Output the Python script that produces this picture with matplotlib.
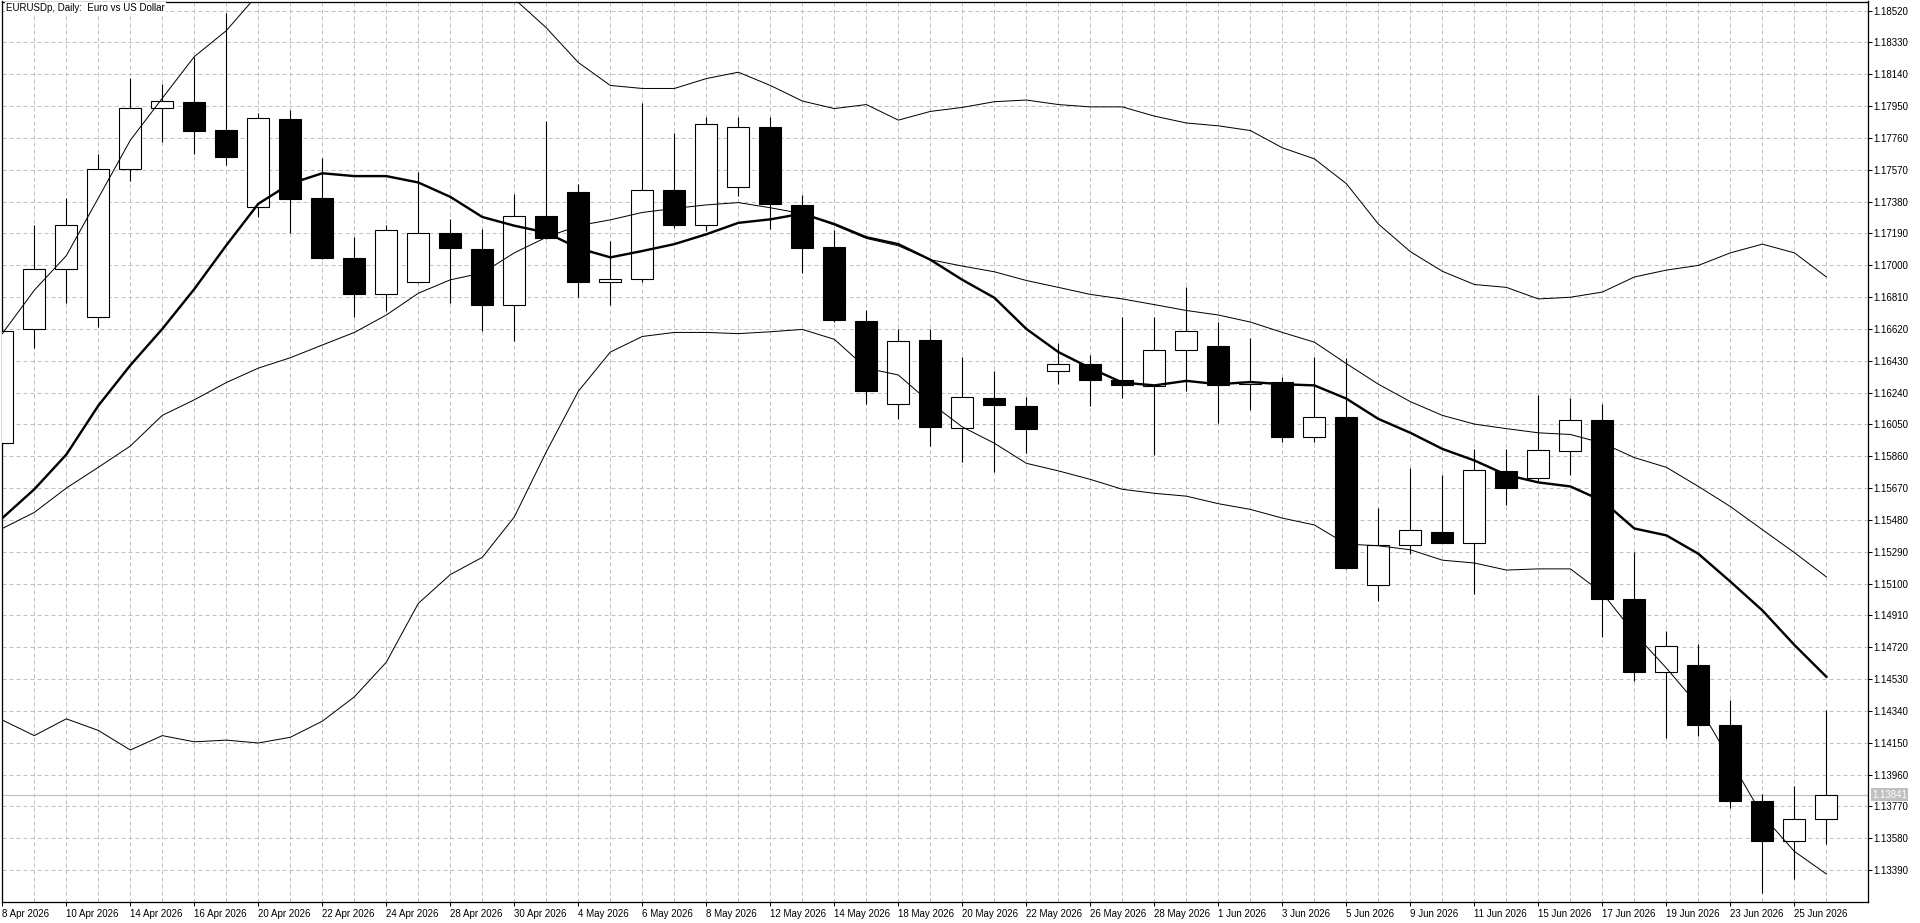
import matplotlib
matplotlib.use('Agg')
import matplotlib.pyplot as plt
import matplotlib.transforms as mtransforms
import numpy as np

plt.rcParams['font.family'] = ['Liberation Sans', 'DejaVu Sans']

# daily bars, 8 Apr 2026 .. 26 Jun 2026
date_labels = ['8 Apr 2026', '10 Apr 2026', '14 Apr 2026', '16 Apr 2026', '20 Apr 2026',
               '22 Apr 2026', '24 Apr 2026', '28 Apr 2026', '30 Apr 2026', '4 May 2026',
               '6 May 2026', '8 May 2026', '12 May 2026', '14 May 2026', '18 May 2026',
               '20 May 2026', '22 May 2026', '26 May 2026', '28 May 2026', '1 Jun 2026',
               '3 Jun 2026', '5 Jun 2026', '9 Jun 2026', '11 Jun 2026', '15 Jun 2026',
               '17 Jun 2026', '19 Jun 2026', '23 Jun 2026', '25 Jun 2026']

opens = [1.15939, 1.16617, 1.16978, 1.16692, 1.17573, 1.17938, 1.17977, 1.17808, 1.17350, 1.17873,
         1.17401, 1.17043, 1.16826, 1.16899, 1.17191, 1.17094, 1.16761, 1.17291, 1.17439, 1.16899,
         1.16916, 1.17450, 1.17240, 1.17467, 1.17825, 1.17360, 1.17106, 1.16668, 1.16172, 1.16555,
         1.16028, 1.16210, 1.16162, 1.16369, 1.16413, 1.16317, 1.16279, 1.16496, 1.16520, 1.16293,
         1.16306, 1.15973, 1.16093, 1.15092, 1.15329, 1.15408, 1.15343, 1.15773, 1.15732, 1.15893,
         1.16076, 1.15006, 1.14575, 1.14613, 1.14255, 1.13801, 1.13563, 1.13694]
highs = [1.16630, 1.17240, 1.17401, 1.17666, 1.18117, 1.18083, 1.18245, 1.18503, 1.17911, 1.17924,
         1.17639, 1.17171, 1.17240, 1.17556, 1.17277, 1.17215, 1.17425, 1.17859, 1.17487, 1.17143,
         1.17969, 1.17790, 1.17883, 1.17883, 1.17887, 1.17419, 1.17212, 1.16730, 1.16617, 1.16617,
         1.16455, 1.16369, 1.16214, 1.16534, 1.16462, 1.16689, 1.16689, 1.16868, 1.16661, 1.16565,
         1.16334, 1.16455, 1.16448, 1.15553, 1.15790, 1.15746, 1.15904, 1.15904, 1.16228, 1.16207,
         1.16173, 1.15291, 1.14820, 1.14741, 1.14403, 1.13846, 1.13891, 1.14348]
lows = [1.15920, 1.16506, 1.16775, 1.16634, 1.17505, 1.17735, 1.17666, 1.17598, 1.17288, 1.17191,
        1.17039, 1.16689, 1.16727, 1.16894, 1.16775, 1.16610, 1.16548, 1.17158, 1.16813, 1.16765,
        1.16902, 1.17222, 1.17202, 1.17412, 1.17219, 1.16954, 1.16661, 1.16169, 1.16083, 1.15921,
        1.15825, 1.15766, 1.15880, 1.16290, 1.16162, 1.16207, 1.15870, 1.16248, 1.16059, 1.16135,
        1.15948, 1.15944, 1.15189, 1.14999, 1.15278, 1.15340, 1.15037, 1.15570, 1.15704, 1.15749,
        1.14779, 1.14520, 1.14176, 1.14190, 1.13763, 1.13254, 1.13340, 1.13546]
closes = [1.16610, 1.16978, 1.17240, 1.17573, 1.17938, 1.17980, 1.17804, 1.17646, 1.17880, 1.17398,
          1.17043, 1.16826, 1.17209, 1.17191, 1.17102, 1.16761, 1.17291, 1.17160, 1.16899, 1.16916,
          1.17450, 1.17240, 1.17842, 1.17825, 1.17363, 1.17102, 1.16672, 1.16248, 1.16548, 1.16035,
          1.16214, 1.16166, 1.16021, 1.16413, 1.16314, 1.16283, 1.16496, 1.16606, 1.16283, 1.16305,
          1.15973, 1.16093, 1.15192, 1.15329, 1.15419, 1.15343, 1.15777, 1.15670, 1.15897, 1.16076,
          1.15009, 1.14575, 1.14727, 1.14259, 1.13804, 1.13563, 1.13694, 1.13841]

# moving average (thick line)
ma = [1.15491, 1.15663, 1.15870, 1.16162, 1.16403, 1.16620, 1.16858, 1.17119, 1.17367, 1.17487,
      1.17549, 1.17532, 1.17532, 1.17494, 1.17408, 1.17288, 1.17236, 1.17195, 1.17102, 1.17047,
      1.17085, 1.17126, 1.17185, 1.17253, 1.17274, 1.17308, 1.17246, 1.17167, 1.17126, 1.17033,
      1.16913, 1.16806, 1.16620, 1.16482, 1.16386, 1.16300, 1.16283, 1.16310, 1.16290, 1.16303,
      1.16290, 1.16283, 1.16204, 1.16083, 1.16000, 1.15904, 1.15835, 1.15749, 1.15704, 1.15680,
      1.15594, 1.15429, 1.15388, 1.15278, 1.15112, 1.14940, 1.14734, 1.14544]

# Bollinger bands
bb_mid = [1.15429, 1.15525, 1.15670, 1.15794, 1.15921, 1.16104, 1.16197, 1.16300, 1.16386, 1.16448,
          1.16524, 1.16599, 1.16703, 1.16833, 1.16913, 1.16954, 1.17074, 1.17167, 1.17236, 1.17271,
          1.17315, 1.17339, 1.17360, 1.17374, 1.17343, 1.17308, 1.17240, 1.17160, 1.17116, 1.17033,
          1.16995, 1.16961, 1.16909, 1.16868, 1.16826, 1.16799, 1.16765, 1.16730, 1.16703, 1.16661,
          1.16599, 1.16541, 1.16413, 1.16290, 1.16186, 1.16104, 1.16052, 1.16025, 1.16000, 1.15990,
          1.15939, 1.15852, 1.15794, 1.15680, 1.15560, 1.15422, 1.15285, 1.15140]
bb_upper = [1.16592, 1.16851, 1.17057, 1.17401, 1.17746, 1.17997, 1.18245, 1.18400, 1.18620, 1.18710,
            1.18770, 1.18770, 1.18770, 1.18680, 1.18670, 1.18650, 1.18590, 1.18417, 1.18210, 1.18073,
            1.18055, 1.18055, 1.18114, 1.18152, 1.18073, 1.17980, 1.17935, 1.17959, 1.17866, 1.17918,
            1.17942, 1.17976, 1.17986, 1.17959, 1.17945, 1.17945, 1.17890, 1.17849, 1.17832, 1.17804,
            1.17701, 1.17635, 1.17487, 1.17246, 1.17081, 1.16964, 1.16885, 1.16868, 1.16799, 1.16809,
            1.16840, 1.16930, 1.16971, 1.16999, 1.17074, 1.17126, 1.17074, 1.16930]
bb_lower = [1.14286, 1.14193, 1.14293, 1.14224, 1.14107, 1.14193, 1.14156, 1.14166, 1.14149, 1.14183,
            1.14279, 1.14424, 1.14631, 1.14982, 1.15154, 1.15257, 1.15498, 1.15887, 1.16248, 1.16482,
            1.16575, 1.16599, 1.16599, 1.16592, 1.16603, 1.16617, 1.16558, 1.16386, 1.16345, 1.16179,
            1.16035, 1.15938, 1.15818, 1.15773, 1.15722, 1.15663, 1.15639, 1.15622, 1.15577, 1.15543,
            1.15491, 1.15450, 1.15336, 1.15326, 1.15302, 1.15240, 1.15223, 1.15181, 1.15188, 1.15188,
            1.15044, 1.14803, 1.14596, 1.14372, 1.14045, 1.13717, 1.13502, 1.13367]

last_price = 1.13841
price_ticks = [1.13390 + 0.0019 * k for k in range(28)]

W, H = 1920, 923
px = 72.0 / 100  # one pixel in points

fig = plt.figure(figsize=(W / 100, H / 100), dpi=100, facecolor='white')
ax = fig.add_axes([1.5 / W, 21 / H, (1868 - 1.5) / W, (902 - 1.5) / H])

x = np.arange(len(opens))
o = np.array(opens)
h = np.array(highs)
l = np.array(lows)
c = np.array(closes)
up = c >= o

# candles
ax.vlines(x, l, h, color='black', lw=1.1 * px, zorder=2)
ax.bar(x, np.abs(c - o), bottom=np.minimum(o, c), width=0.69,
       color=np.where(up, 'white', 'black'), edgecolor='black', linewidth=1.1 * px, zorder=3)

# indicators
grey = '#c0c0c0'
ax.axhline(last_price, color=grey, lw=1.2 * px, zorder=1.5)
ax.plot(x, bb_upper, color='black', lw=1.0 * px, zorder=4)
ax.plot(x, bb_mid, color='black', lw=1.0 * px, zorder=4)
ax.plot(x, bb_lower, color='black', lw=1.0 * px, zorder=4)
ax.plot(x, ma, color='black', lw=2.4 * px, zorder=5)

ax.set_xlim(-0.025, 58.30)
ax.set_ylim(1.13200, 1.18574)

# axes, ticks, grid
ax.yaxis.tick_right()
ax.set_yticks(price_ticks)
ax.set_yticklabels(['%.5f' % v for v in price_ticks])
ax.tick_params(axis='y', length=4 * px, width=1.0 * px, pad=1, labelsize=7, colors='black')

ax.set_xticks(x[::2])
ax.set_xticklabels(date_labels, ha='left')
ax.set_xticks(x[1::2], minor=True)
ax.tick_params(axis='x', which='major', length=4 * px, width=1.0 * px, pad=2, labelsize=7)
ax.tick_params(axis='x', which='minor', length=0)

ax.set_axisbelow(True)
ax.grid(True, which='both', axis='x', color=grey, linestyle=(0, (4, 3)), lw=1.0 * px)
ax.grid(True, which='major', axis='y', color=grey, linestyle=(0, (4, 3)), lw=1.0 * px)
for s in ax.spines.values():
    s.set_color('black')
    s.set_linewidth(1.3 * px)

# last price tag on the price scale
trans = mtransforms.blended_transform_factory(ax.transAxes, ax.transData)
off = mtransforms.ScaledTranslation(4 / 100, 0, fig.dpi_scale_trans)
ax.text(1.0, last_price, '%.5f' % last_price, transform=trans + off, ha='left', va='center',
        color='white', fontsize=7, zorder=10, clip_on=False,
        bbox=dict(boxstyle='square,pad=0.15', fc=grey, ec='none'))

fig.text(6 / W, 1 - 3 / H, 'EURUSDp, Daily:  Euro vs US Dollar', ha='left', va='top',
         fontsize=7, color='black',
         bbox=dict(boxstyle='square,pad=0.1', fc='white', ec='none'))

fig.savefig('out.png', dpi=100, facecolor='white')
